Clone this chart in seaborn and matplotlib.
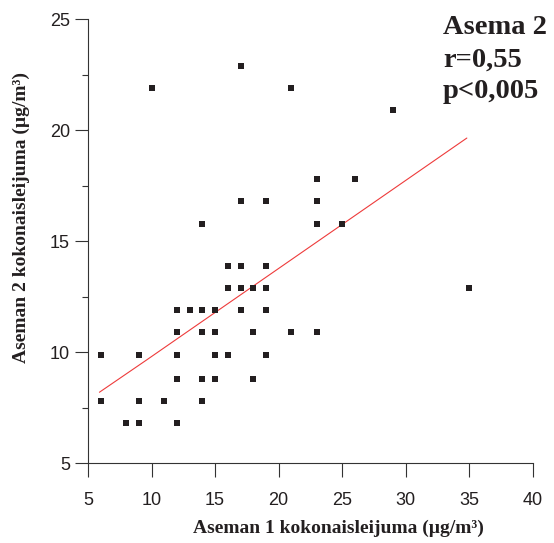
import seaborn as sns
import matplotlib.pyplot as plt

# data (station 1 vs station 2 total suspended particles)
x_vals = [6, 6, 8, 9, 9, 9, 10, 11,
          12, 12, 12, 12, 12, 13, 14, 14, 14, 14, 14,
          15, 15, 15, 15, 16, 16, 16, 17, 17, 17, 17, 17,
          18, 18, 18, 19, 19, 19, 19, 19, 19,
          21, 21, 23, 23, 23, 23, 25, 26, 29, 35]
y_vals = [9.9, 7.8, 6.8, 9.9, 7.8, 6.8, 21.9, 7.8,
          11.9, 10.9, 9.9, 8.8, 6.8, 11.9, 15.8, 11.9, 10.9, 8.8, 7.8,
          11.9, 10.9, 9.9, 8.8, 13.9, 12.9, 9.9, 22.9, 16.8, 13.9, 12.9, 11.9,
          12.9, 10.9, 8.8, 16.8, 13.9, 12.9, 11.9, 9.9, 12.9,
          21.9, 10.9, 17.8, 16.8, 15.8, 10.9, 15.8, 17.8, 20.9, 12.9]
fit_x = [5.9, 9.6, 34.8]
fit_y = [8.2, 9.65, 19.65]

x_ticks = [5, 10, 15, 20, 25, 30, 35, 40]
y_ticks = [5, 10, 15, 20, 25]
y_minor = [7.5, 12.5, 17.5, 22.5]

sns.set_style('ticks')
plt.rcParams['font.family'] = ['Liberation Sans', 'DejaVu Sans']

fig = plt.figure(figsize=(5.54, 5.43), dpi=100)
ax = fig.add_axes([0.1588, 0.1468, 0.8032, 0.8177])

sns.lineplot(x=fit_x, y=fit_y, sort=False, color='#ee3b3b', linewidth=0.8, ax=ax)
sns.scatterplot(x=x_vals, y=y_vals, marker='s', s=15, color='#231f20',
                linewidth=0, ax=ax, zorder=3)

ax.set_xlim(5, 40)
ax.set_ylim(5, 25)
ax.set_xticks(x_ticks)
ax.set_yticks(y_ticks)
ax.set_yticks(y_minor, minor=True)
ax.tick_params(axis='x', length=10, width=0.8, pad=11, labelsize=13,
               color='#333333', labelcolor='#231f20')
ax.tick_params(axis='y', which='major', length=9.4, width=0.8, pad=3.5,
               labelsize=13, color='#333333', labelcolor='#231f20')
ax.tick_params(axis='y', which='minor', length=4.3, width=0.8, color='#333333')
sns.despine(ax=ax)
for side in ['left', 'bottom']:
    ax.spines[side].set_linewidth(0.8)
    ax.spines[side].set_color('#333333')

lab_font = dict(family=['Liberation Serif', 'DejaVu Serif'], fontweight='bold',
                fontsize=14, color='#231f20')
ax.set_xlabel('Aseman 1 kokonaisleijuma (µg/m³)', **lab_font)
ax.set_ylabel('Aseman 2 kokonaisleijuma (µg/m³)', **lab_font)
ax.xaxis.set_label_coords(0.562, -0.146)
ax.xaxis.label.set_verticalalignment('center')
ax.yaxis.set_label_coords(-0.1506, 0.5525)
ax.yaxis.label.set_verticalalignment('center')

ann_font = dict(family=['Liberation Serif', 'DejaVu Serif'], fontweight='bold',
                fontsize=20.5, color='#231f20', va='baseline', ha='left')
fig.text(443 / 554, 1 - 34 / 543, 'Asema 2', **ann_font)
fig.text(443 / 554, 1 - 67 / 543, 'r=0,55', **ann_font)
fig.text(443 / 554, 1 - 98 / 543, 'p<0,005', **ann_font)

fig.savefig('out.png', dpi=100)
plt.close(fig)
